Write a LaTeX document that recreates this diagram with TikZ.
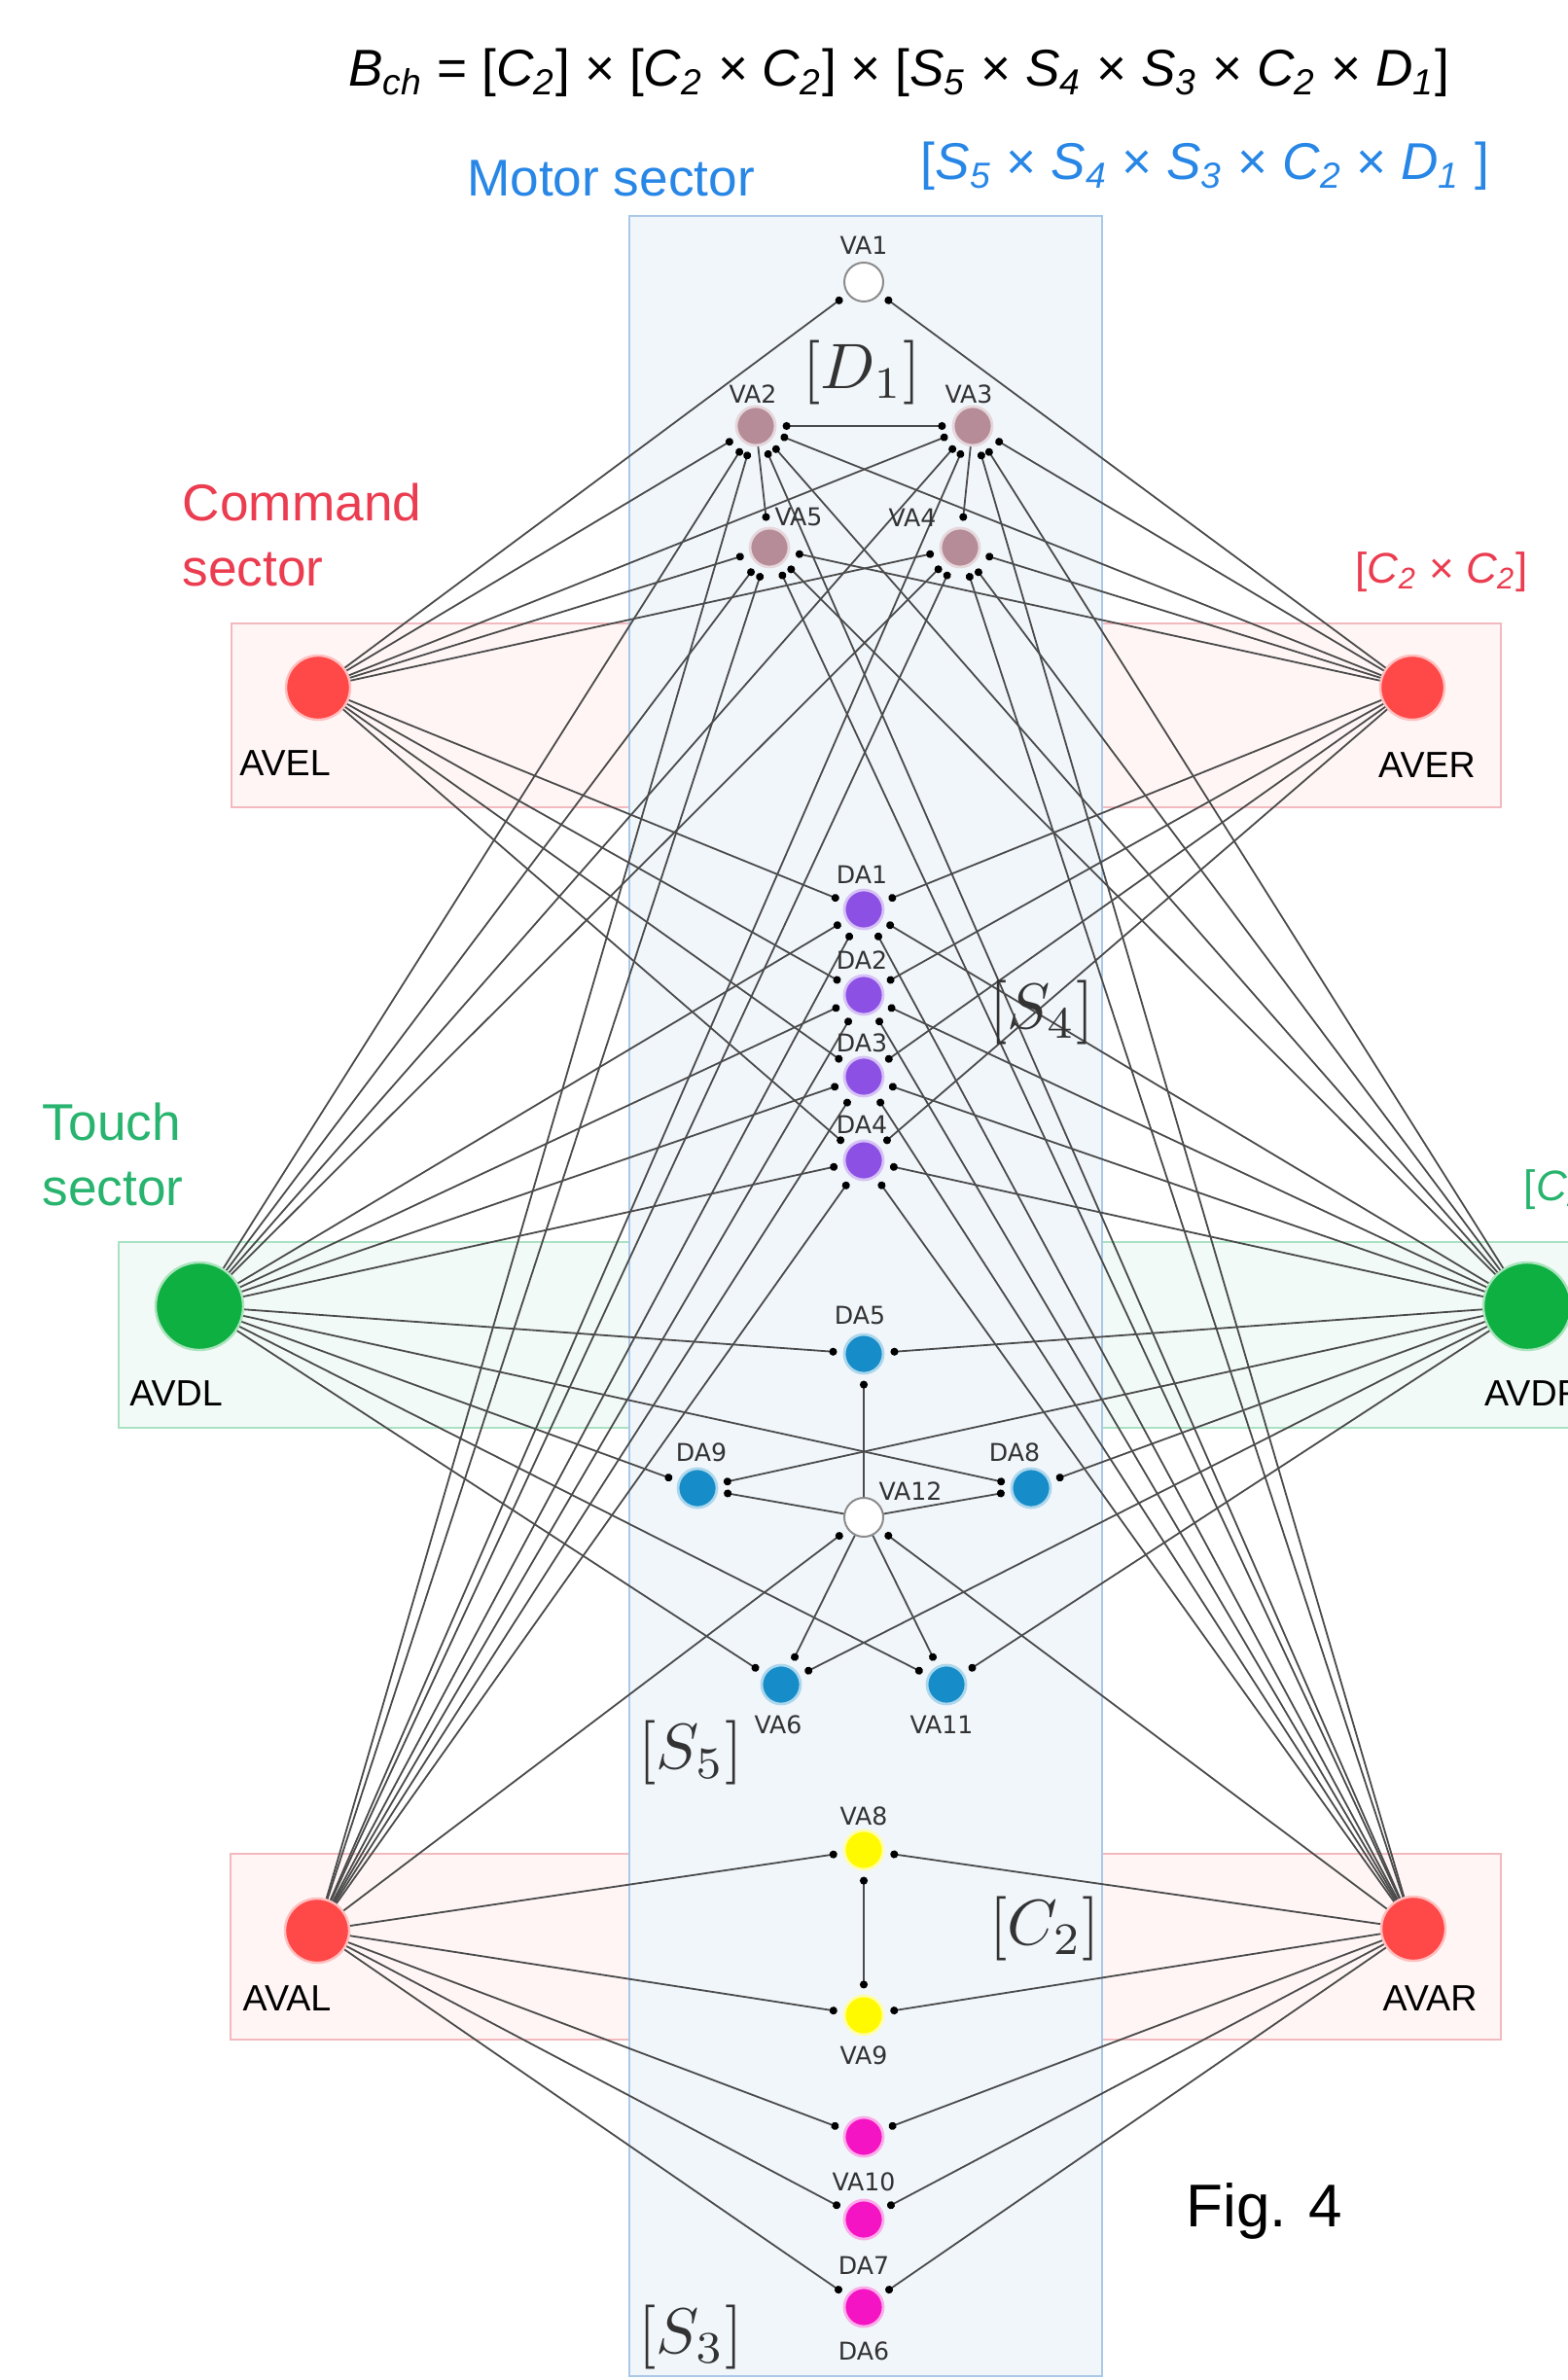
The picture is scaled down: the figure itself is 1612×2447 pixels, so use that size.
\documentclass[tikz,border=0pt]{standalone}
\usepackage{fontspec}
\setmainfont{Liberation Sans}
\newfontfamily\labfont{DejaVu Sans}
\usetikzlibrary{arrows.meta}
\pgfdeclarelayer{back}
\pgfdeclarelayer{mid}
\pgfsetlayers{back,mid,main}
\definecolor{avred}{RGB}{255,72,72}
\definecolor{avgreen}{RGB}{14,176,66}
\definecolor{mauve}{RGB}{182,140,152}
\definecolor{dapurple}{RGB}{140,80,228}
\definecolor{sblue}{RGB}{22,140,200}
\definecolor{vyellow}{RGB}{255,250,0}
\definecolor{vmagenta}{RGB}{245,20,195}
\definecolor{cmdred}{RGB}{235,60,80}
\definecolor{touchgreen}{RGB}{40,180,110}
\definecolor{motorblue}{RGB}{40,135,230}
\definecolor{labgray}{RGB}{50,50,50}
\definecolor{edgegray}{RGB}{75,75,75}
\definecolor{motorfill}{RGB}{241,246,251}
\definecolor{motoredge}{RGB}{170,200,232}
\definecolor{cmdfill}{RGB}{255,245,245}
\definecolor{cmdedge}{RGB}{242,185,190}
\definecolor{touchfill}{RGB}{241,250,246}
\definecolor{touchedge}{RGB}{170,225,195}
\newcommand{\gsym}[2]{\textit{#1}\textsubscript{\textit{#2}}}
\newcommand{\mlabtext}[1]{\scalebox{1.65}{$#1$}}
\tikzset{
  nrn/.style={circle, inner sep=0pt, outer sep=0pt, minimum size=#1},
  mot/.style={nrn=10pt, fill=#1, draw=#1!35, line width=0.7pt},
  hollow/.style={nrn=10pt, fill=white, draw=black!45, line width=0.5pt},
  inter/.style={nrn=16.5pt, fill=avred, draw=avred!35, line width=0.6pt},
  touch/.style={nrn=22.5pt, fill=avgreen, draw=avgreen!35, line width=0.6pt},
  lab/.style={font=\labfont\fontsize{6.3}{7}\selectfont, text=labgray, inner sep=0pt},
  ilab/.style={font=\fontsize{9.4}{11}\selectfont, text=black, inner sep=0pt},
  sect/.style={font=\fontsize{13.3}{16.8}\selectfont, inner sep=0pt},
  grp/.style={font=\fontsize{11}{13}\selectfont, inner sep=0pt},
  mlab/.style={text=black!80, inner sep=0pt},
  dottip/.tip={Circle[length=2pt, color=black]},
  con/.style={draw=edgegray, line width=0.45pt, -dottip, shorten >=1.9pt},
  bicon/.style={con, dottip-dottip, shorten <=1.9pt},
  cmdbox/.style={draw=cmdedge, fill=cmdfill, line width=0.4pt},
  touchbox/.style={draw=touchedge, fill=touchfill, line width=0.4pt},
  motorbox/.style={draw=motoredge, fill=motorfill, line width=0.4pt},
}
\begin{document}
\begin{tikzpicture}[x=0.25pt,y=-0.25pt]
\useasboundingbox (0,0) rectangle (1612,2447);
\clip (0,0) rectangle (1612,2447);
\begin{pgfonlayer}{back}
\fill[white] (0,0) rectangle (1612,2447);
\draw[cmdbox] (238,641) rectangle (1543,830);
\draw[cmdbox] (237,1906) rectangle (1543,2097);
\draw[touchbox] (122,1277) rectangle (1700,1468);
\draw[motorbox] (647,222) rectangle (1133,2443);
\end{pgfonlayer}

% texts
\node[font=\fontsize{13.3}{16}\selectfont, inner sep=0pt] (title) at (924,75)
  {\gsym{B}{ch} = [\gsym{C}{2}] × [\gsym{C}{2} × \gsym{C}{2}] × [\gsym{S}{5} × \gsym{S}{4} × \gsym{S}{3} × \gsym{C}{2} × \gsym{D}{1}]};
\node[sect, text=motorblue] (motorlab) at (628,183) {Motor sector};
\node[sect, text=motorblue] (motorgrp) at (1239,171)
  {[\gsym{S}{5} × \gsym{S}{4} × \gsym{S}{3} × \gsym{C}{2} × \gsym{D}{1} ]};
\node[sect, text=cmdred, align=left, anchor=west] (cmdlab) at (187,550) {Command\\sector};
\node[sect, text=touchgreen, align=left, anchor=west] (touchlab) at (43,1187) {Touch\\sector};
\node[grp, text=cmdred] (cmdgrp) at (1482,588) {[\gsym{C}{2} × \gsym{C}{2}]};
\node[grp, text=touchgreen, anchor=west] (touchgrp) at (1566,1223) {[\gsym{C}{2} × \gsym{C}{2}]};
\node[mlab] (D1lab) at (886,383) {\mlabtext{[D_1]}};
\node[mlab] (S4lab) at (1071,1041) {\mlabtext{[S_4]}};
\node[mlab] (S5lab) at (710,1802) {\mlabtext{[S_5]}};
\node[mlab] (C2lab) at (1074,1983) {\mlabtext{[C_2]}};
\node[mlab] (S3lab) at (710,2403) {\mlabtext{[S_3]}};
\node[font=\fontsize{15.5}{18}\selectfont, inner sep=0pt] (fig) at (1300,2273) {Fig. 4};

% interneurons
\node[inter] (AVEL) at (327,707) {};
\node[inter] (AVER) at (1452,707) {};
\node[inter] (AVAL) at (326,1985) {};
\node[inter] (AVAR) at (1453,1983) {};
\node[touch] (AVDL) at (205,1343) {};
\node[touch] (AVDR) at (1570,1343) {};
\node[ilab] (AVELl) at (293,785) {AVEL};
\node[ilab] (AVERl) at (1467,787) {AVER};
\node[ilab] (AVALl) at (295,2055) {AVAL};
\node[ilab] (AVARl) at (1470,2055) {AVAR};
\node[ilab] (AVDLl) at (181,1433) {AVDL};
\node[ilab] (AVDRl) at (1577,1433) {AVDR};

% motor neurons
\node[hollow] (VA1) at (888,290) {};
\node[mot=mauve] (VA2) at (777,438) {};
\node[mot=mauve] (VA3) at (1000,438) {};
\node[mot=mauve] (VA5) at (791,563) {};
\node[mot=mauve] (VA4) at (987,563) {};
\node[mot=dapurple] (DA1) at (888,935) {};
\node[mot=dapurple] (DA2) at (888,1023) {};
\node[mot=dapurple] (DA3) at (888,1107) {};
\node[mot=dapurple] (DA4) at (888,1193) {};
\node[mot=sblue] (DA5) at (888,1392) {};
\node[mot=sblue] (DA9) at (717,1530) {};
\node[mot=sblue] (DA8) at (1060,1530) {};
\node[hollow] (VA12) at (888,1560) {};
\node[mot=sblue] (VA6) at (803,1732) {};
\node[mot=sblue] (VA11) at (973,1732) {};
\node[mot=vyellow] (VA8) at (888,1902) {};
\node[mot=vyellow] (VA9) at (888,2072) {};
\node[mot=vmagenta] (VA10) at (888,2197) {};
\node[mot=vmagenta] (DA7) at (888,2282) {};
\node[mot=vmagenta] (DA6) at (888,2372) {};

% motor labels
\node[lab] (VA1l) at (888,252) {VA1};
\node[lab] (VA2l) at (774,405) {VA2};
\node[lab] (VA3l) at (996,405) {VA3};
\node[lab] (VA5l) at (821,532) {VA5};
\node[lab] (VA4l) at (938,532) {VA4};
\node[lab] (DA1l) at (886,899) {DA1};
\node[lab] (DA2l) at (886,987) {DA2};
\node[lab] (DA3l) at (886,1072) {DA3};
\node[lab] (DA4l) at (886,1156) {DA4};
\node[lab] (DA5l) at (884,1352) {DA5};
\node[lab] (DA9l) at (721,1493) {DA9};
\node[lab] (DA8l) at (1043,1493) {DA8};
\node[lab] (VA12l) at (936,1533) {VA12};
\node[lab] (VA6l) at (800,1773) {VA6};
\node[lab] (VA11l) at (968,1773) {VA11};
\node[lab] (VA8l) at (888,1867) {VA8};
\node[lab] (VA9l) at (888,2113) {VA9};
\node[lab] (VA10l) at (888,2243) {VA10};
\node[lab] (DA7l) at (888,2329) {DA7};
\node[lab] (DA6l) at (888,2417) {DA6};

% connectors
\begin{pgfonlayer}{mid}
\foreach \s in {AVEL,AVER}{
  \foreach \t in {VA1,VA2,VA3,VA4,VA5,DA1,DA2,DA3,DA4}{\draw[con] (\s) -- (\t);}}
\foreach \s in {AVDL,AVDR}{
  \foreach \t in {VA2,VA3,VA4,VA5,DA1,DA2,DA3,DA4,DA5,DA8,DA9,VA6,VA11}{\draw[con] (\s) -- (\t);}}
\foreach \s in {AVAL,AVAR}{
  \foreach \t in {VA2,VA3,VA4,VA5,DA1,DA2,DA3,DA4,VA12,VA8,VA9,VA10,DA7,DA6}{\draw[con] (\s) -- (\t);}}
\foreach \t in {DA5,DA8,DA9,VA6,VA11}{\draw[con] (VA12) -- (\t);}
\draw[bicon] (VA2) -- (VA3);
\draw[con] (VA2) -- (VA5);
\draw[con] (VA3) -- (VA4);
\draw[bicon] (VA8) -- (VA9);
\end{pgfonlayer}
\end{tikzpicture}
\end{document}
